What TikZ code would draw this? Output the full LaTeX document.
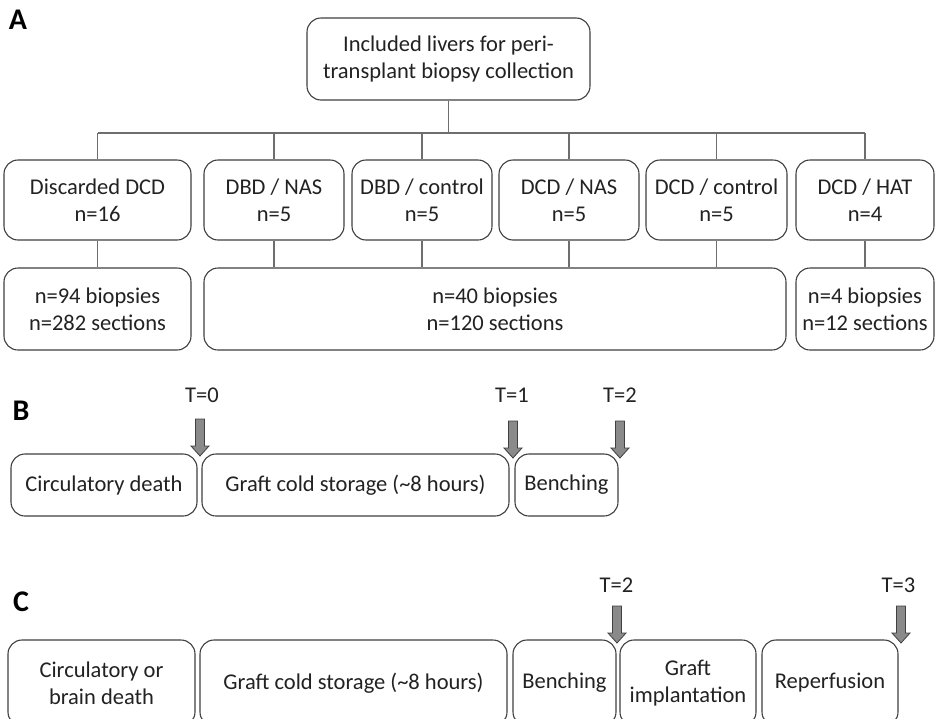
\documentclass[tikz,border=0pt]{standalone}
\usepackage{fontspec}
\setmainfont{Carlito}
\definecolor{boxc}{HTML}{404040}
\definecolor{linec}{HTML}{6E6E6E}
\definecolor{txt}{HTML}{222222}
\definecolor{arrfill}{HTML}{8A8A8A}
\definecolor{arrdraw}{HTML}{404040}
\begin{document}
\begin{tikzpicture}[x=1pt,y=-1pt,
  box/.style={draw=boxc, line width=1.1pt, rounded corners=14pt, align=center,
    inner sep=0pt, font=\fontsize{22.5}{27}\selectfont, text=txt},
  sz/.style n args={2}{minimum width=#1pt, minimum height=#2pt},
  conn/.style={draw=linec, line width=1.2pt},
  tlab/.style={inner sep=0pt, font=\fontsize{22.5}{27}\selectfont, text=txt},
  panel/.style={inner sep=0pt, font=\fontsize{30}{32}\selectfont\bfseries, text=black},
  tarrow/.pic={\filldraw[fill=arrfill, draw=arrdraw, line width=0.8pt]
    (-4.5,0) -- (4.5,0) -- (4.5,27) -- (9,27) -- (0,37) -- (-9,27) -- (-4.5,27) -- cycle;}
]
\clip (0,0) rectangle (935,718);
\fill[white] (0,0) rectangle (935,718);

% Panel letters
\node[panel] (pA) at (18,20) {A};
\node[panel] (pB) at (21,411) {B};
\node[panel] (pC) at (21,602) {C};

% ---------- Panel A ----------
\node[box, sz={283}{82}] (top) at (448.5,59) {Included livers for peri-\\transplant biopsy collection};
\coordinate (hl) at (0,133);

\node[box, sz={187}{80}] (disc) at (97.5,200) {Discarded DCD\\n=16};
\node[box, sz={140}{80}] (dbdnas) at (274,200) {DBD / NAS\\n=5};
\node[box, sz={140}{80}] (dbdctl) at (422,200) {DBD / control\\n=5};
\node[box, sz={140}{80}] (dcdnas) at (569,200) {DCD / NAS\\n=5};
\node[box, sz={141}{80}] (dcdctl) at (716.5,200) {DCD / control\\n=5};
\node[box, sz={138}{80}] (dcdhat) at (865,200) {DCD / HAT\\n=4};

\node[box, sz={187}{82}] (b1) at (97.5,309) {n=94 biopsies\\n=282 sections};
\node[box, sz={582}{82}] (b2) at (495,309) {n=40 biopsies\\n=120 sections};
\node[box, sz={138}{82}] (b3) at (865,309) {n=4 biopsies\\n=12 sections};

\draw[conn] (top.south) -- (top.south |- hl);
\draw[conn] (disc.north |- hl) -- (dcdhat.north |- hl);
\foreach \n in {disc,dbdnas,dbdctl,dcdnas,dcdctl,dcdhat}
  \draw[conn] (\n.north) -- (\n.north |- hl);
\draw[conn] (disc.south) -- (disc.south |- b1.north);
\foreach \n in {dbdnas,dbdctl,dcdnas,dcdctl}
  \draw[conn] (\n.south) -- (\n.south |- b2.north);
\draw[conn] (dcdhat.south) -- (dcdhat.south |- b3.north);

% ---------- Panel B ----------
\node[box, sz={186}{62}] (cd) at (104,485) {Circulatory death};
\node[box, sz={307}{62}] (gcs) at (355.5,485) {Graft cold storage (\textasciitilde8 hours)};
\node[box, sz={103}{62}] (bench) at (566.5,485) {Benching};

\node[tlab] (t0) at (202,395) {T=0};
\node[tlab] (t1) at (512,395) {T=1};
\node[tlab] (t2) at (620,395) {T=2};
\pic at (200,419) {tarrow};
\pic at (513,421) {tarrow};
\pic at (620,421) {tarrow};

% ---------- Panel C ----------
\node[box, sz={187}{86}] (cbd) at (101.5,683) {Circulatory or\\brain death};
\node[box, sz={307}{86}] (gcs2) at (353.5,683) {Graft cold storage (\textasciitilde8 hours)};
\node[box, sz={103}{86}] (bench2) at (564.5,683) {Benching};
\node[box, sz={136}{86}] (impl) at (688,683) {Graft\\implantation};
\node[box, sz={136}{86}] (rep) at (830,683) {Reperfusion};

\node[tlab] (tc2) at (616.5,585) {T=2};
\node[tlab] (tc3) at (898.5,585) {T=3};
\pic at (617,606) {tarrow};
\pic at (901,606) {tarrow};
\end{tikzpicture}
\end{document}
